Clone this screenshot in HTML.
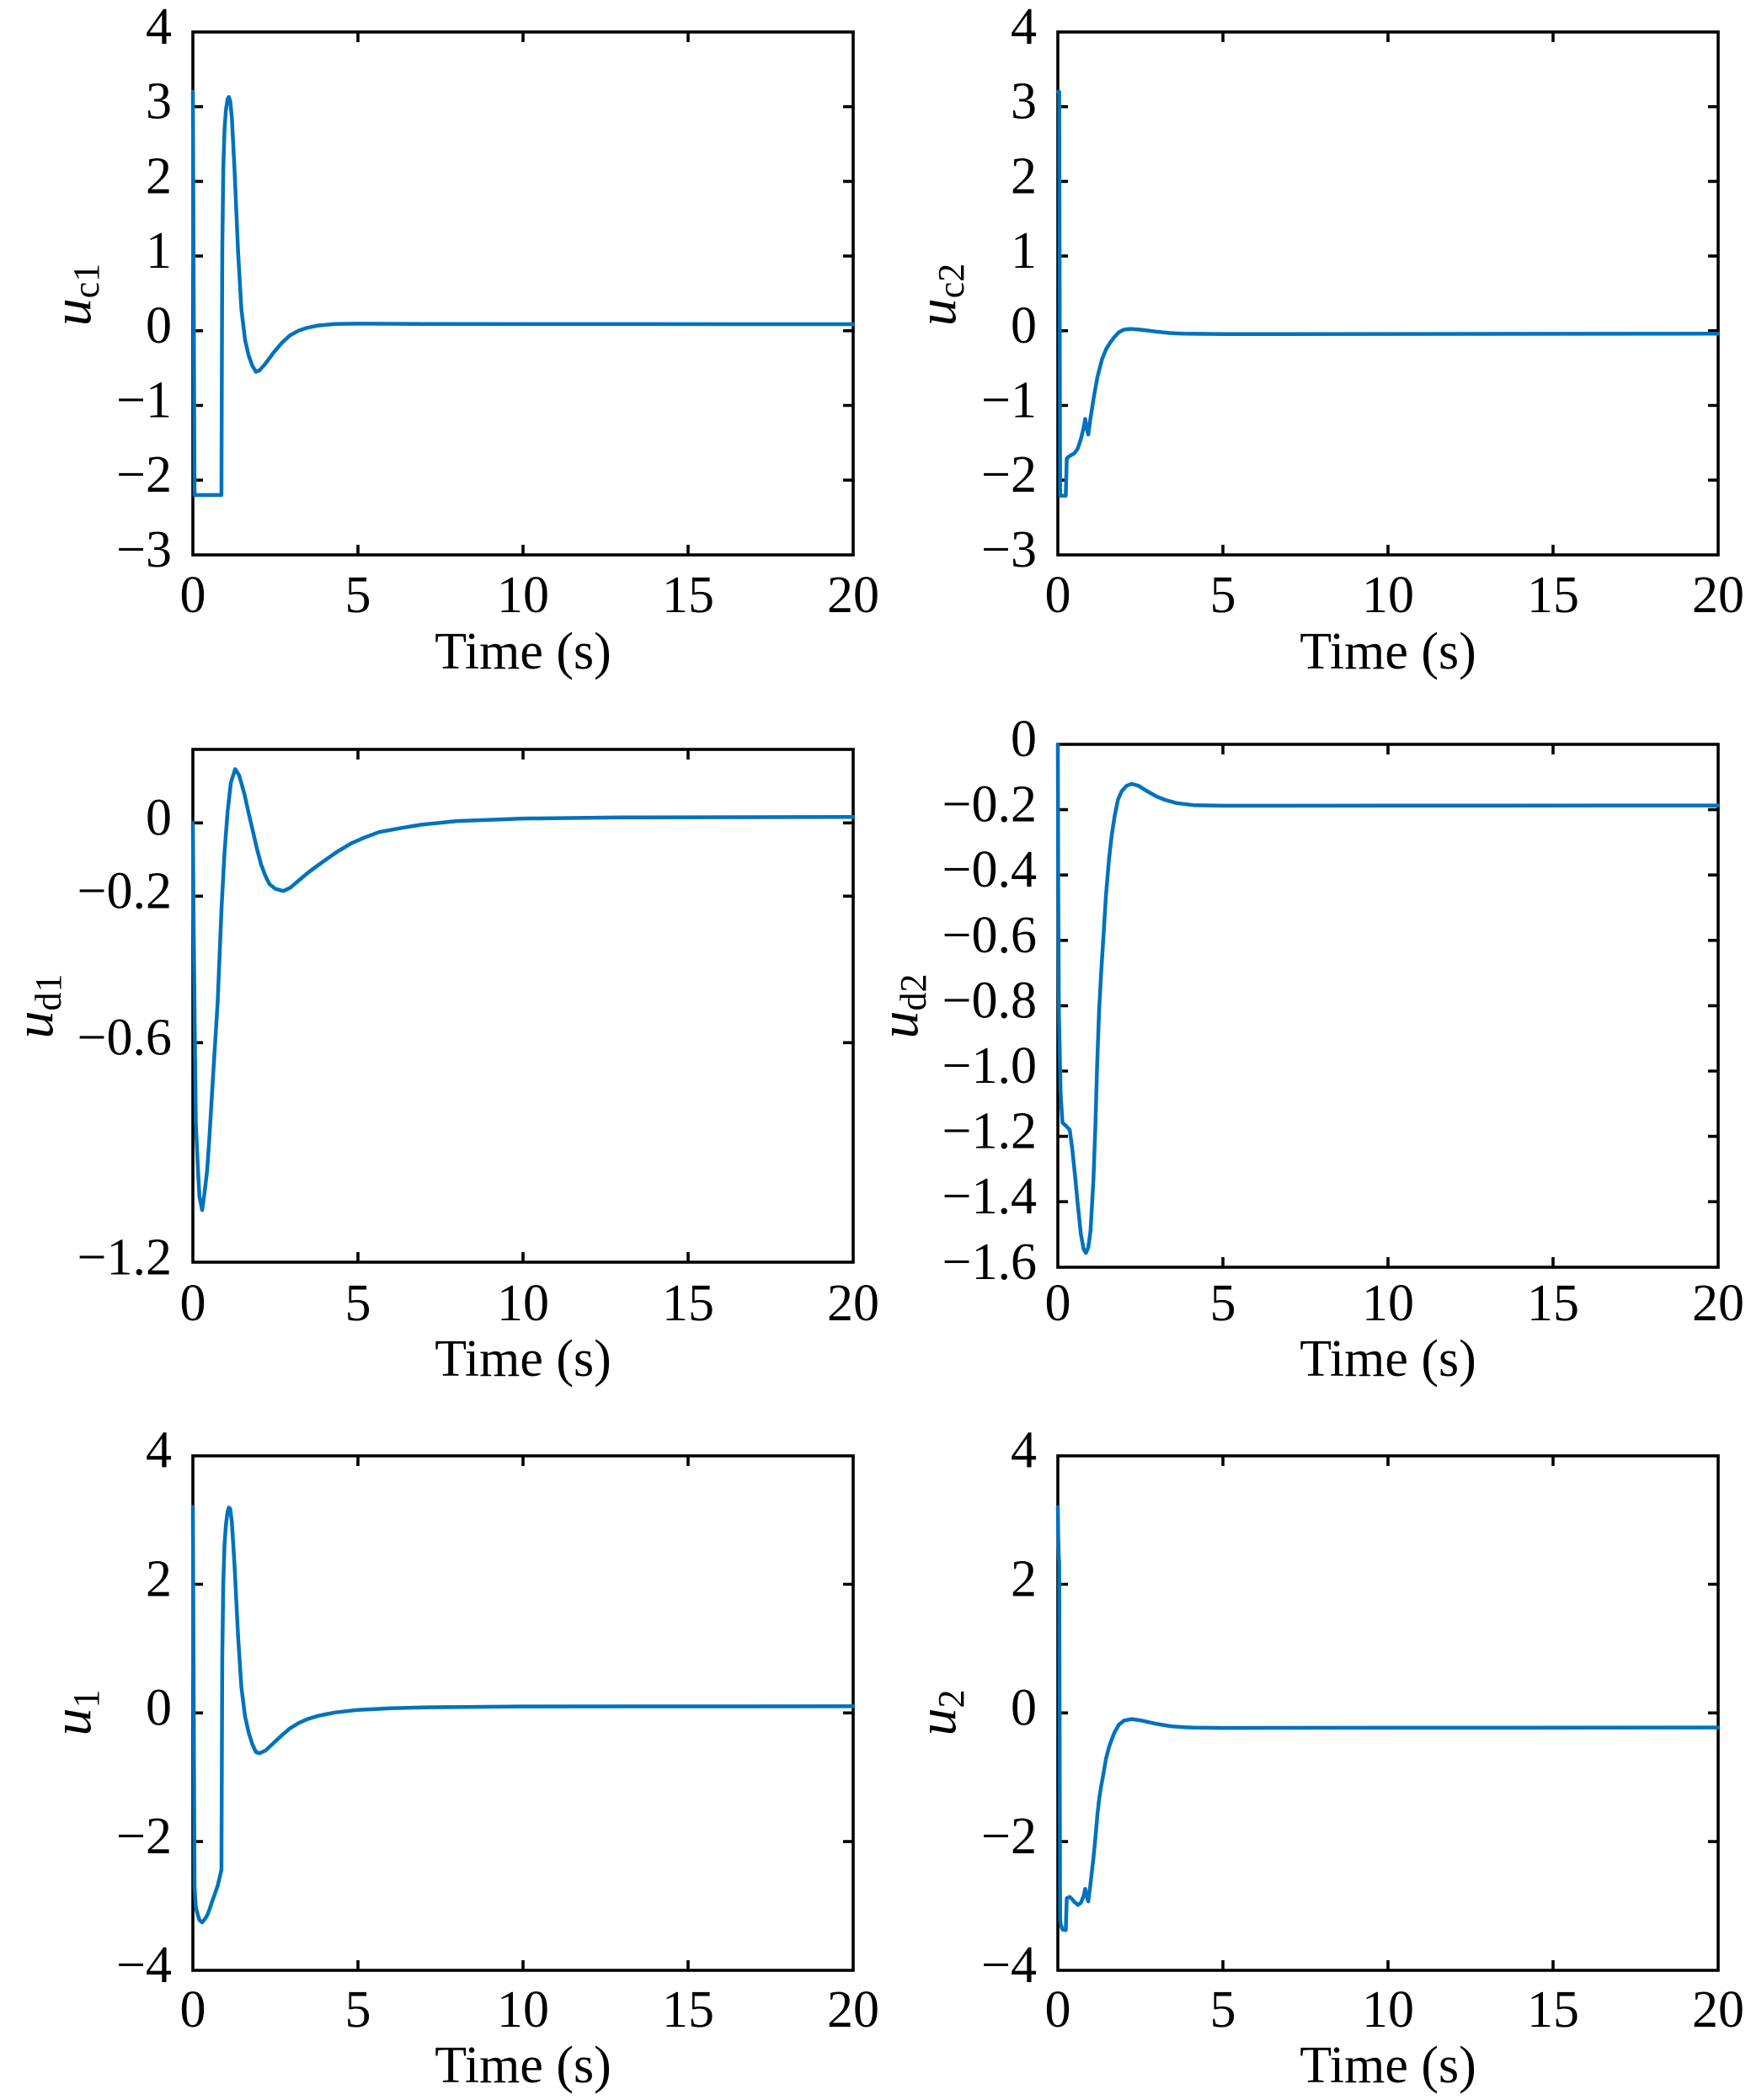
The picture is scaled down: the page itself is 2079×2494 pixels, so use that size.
<!DOCTYPE html>
<html>
<head>
<meta charset="utf-8">
<style>
html,body{margin:0;padding:0;background:#fff;}
svg{display:block;}
text{font-family:"Liberation Serif","Times New Roman",serif;fill:#000;}
</style>
</head>
<body>
<svg width="2079" height="2494" viewBox="0 0 2079 2494" xmlns="http://www.w3.org/2000/svg">
<rect x="0" y="0" width="2079" height="2494" fill="#fff"/>

<!-- ================= Frames ================= -->
<g fill="none" stroke="#000" stroke-width="3.6">
  <rect x="229" y="38" width="784" height="621"/>
  <rect x="1256" y="38" width="784" height="621"/>
  <rect x="229" y="890" width="784" height="609"/>
  <rect x="1256" y="884" width="784" height="621"/>
  <rect x="229" y="1729" width="784" height="611"/>
  <rect x="1256" y="1729" width="784" height="611"/>
</g>

<!-- ================= Ticks ================= -->
<g fill="none" stroke="#000" stroke-width="3.6">
  <path d="M425 659V647M621 659V647M817 659V647M425 38V50M621 38V50M817 38V50
           M229 126.7H241M229 215.4H241M229 304.1H241M229 392.8H241M229 481.5H241M229 570.2H241
           M1013 126.7H1001M1013 215.4H1001M1013 304.1H1001M1013 392.8H1001M1013 481.5H1001M1013 570.2H1001"/>
  <path d="M1452 659V647M1648 659V647M1844 659V647M1452 38V50M1648 38V50M1844 38V50
           M1256 126.7H1268M1256 215.4H1268M1256 304.1H1268M1256 392.8H1268M1256 481.5H1268M1256 570.2H1268
           M2040 126.7H2028M2040 215.4H2028M2040 304.1H2028M2040 392.8H2028M2040 481.5H2028M2040 570.2H2028"/>
  <path d="M425 1499V1487M621 1499V1487M817 1499V1487M425 890V902M621 890V902M817 890V902
           M229 977.3H241M229 1064.3H241M229 1238.3H241
           M1013 977.3H1001M1013 1064.3H1001M1013 1238.3H1001"/>
  <path d="M1452 1505V1493M1648 1505V1493M1844 1505V1493M1452 884V896M1648 884V896M1844 884V896
           M1256 961.6H1268M1256 1039.2H1268M1256 1116.8H1268M1256 1194.4H1268M1256 1272H1268M1256 1349.6H1268M1256 1427.2H1268
           M2040 961.6H2028M2040 1039.2H2028M2040 1116.8H2028M2040 1194.4H2028M2040 1272H2028M2040 1349.6H2028M2040 1427.2H2028"/>
  <path d="M425 2340V2328M621 2340V2328M817 2340V2328M425 1729V1741M621 1729V1741M817 1729V1741
           M229 1881.5H241M229 2034.3H241M229 2187.1H241
           M1013 1881.5H1001M1013 2034.3H1001M1013 2187.1H1001"/>
  <path d="M1452 2340V2328M1648 2340V2328M1844 2340V2328M1452 1729V1741M1648 1729V1741M1844 1729V1741
           M1256 1881.5H1268M1256 2034.3H1268M1256 2187.1H1268
           M2040 1881.5H2028M2040 2034.3H2028M2040 2187.1H2028"/>
</g>

<!-- ================= Curves ================= -->
<g fill="none" stroke="#0072BD" stroke-width="4.5" stroke-linejoin="round" stroke-linecap="round">
  <polyline points="229,109 231,587.9 262.9,587.9 263.9,299.7 265.1,200.3 266.6,153.3 268.2,131.1 270.2,117.8 271.7,115.2 273.3,119.6 275.3,140 278.4,200.3 282.7,299.7 286.6,367.1 290.9,403.4 295.2,422.1 299.6,434.5 303.9,441.6 308.2,439.8 315.2,431.8 325,418.5 334.8,407 344.6,398.1 354.4,392.8 364.6,389.3 378,386.6 397.6,384.8 425,384.4 503.4,384.8 1013,385"/>
  <polyline points="1256,109 1257.6,109 1258.7,588.8 1265.4,588.8 1266.6,544.5 1269.7,541.8 1275.6,538.3 1279.5,533 1283.4,521.4 1286.6,508.1 1288.5,497.5 1290.1,508.1 1292.1,516.1 1294.4,499.2 1298.7,471.7 1303,447.8 1308.5,426.5 1313.6,414.1 1318.7,406.1 1323.4,399.9 1328.5,394.6 1334.4,391.5 1341.8,390.6 1354,391.5 1371.6,393.7 1389.3,395.5 1405,396.3 1452,396.8 2040,396.3"/>
  <polyline points="229,977.3 229.8,1086.1 231,1199.2 232.5,1334 234.9,1386.2 236.8,1421 240,1437.1 242.3,1421 245.9,1390.6 248.6,1351.4 251.7,1299.2 254.9,1247 258.4,1190.5 263.1,1077.4 266.6,1012.1 270.2,964.3 274.1,929.5 279.2,913.4 283.9,920.7 290.2,942.9 294.9,964.3 300,986 305,1007.8 310.1,1026.9 315.2,1040.4 319.9,1050 327,1055.6 336.4,1058.2 344.6,1054.3 353.3,1046.9 366.2,1036 383.4,1023.4 399.5,1012.1 416.8,1001.7 432.8,994.7 450.1,988.2 476,983.4 499.5,979.5 542.6,975.1 621,972.1 738.6,970.8 1013,970.3"/>
  <polyline points="1256,884 1256.4,1039.2 1257.2,1198.3 1259.3,1299.2 1261.5,1333.3 1265,1336.4 1270.1,1341.8 1273.2,1365.1 1276.8,1400 1279.9,1433 1283.4,1466 1286.6,1483.5 1289.3,1488.1 1292.1,1481.5 1294.8,1462.1 1298.3,1400 1300.7,1333.3 1302.6,1266.6 1305,1199.8 1307.4,1155.6 1310.1,1112.9 1313.2,1062.5 1316.8,1019.8 1319.9,992.6 1323.4,969.4 1327.3,950 1331.7,939.9 1337.5,933.3 1343.8,930.9 1352,933.3 1361.8,939.5 1373.6,946.1 1383.4,950 1397.1,953.8 1416.7,956.2 1452,956.9 2040,956.6"/>
  <polyline points="229,1789.8 229.8,1973.9 231,2241.3 232.5,2265 234.9,2274.2 236.8,2280.3 240,2283.1 242.3,2280.3 245.9,2275 248.6,2268.1 251.7,2258.9 254.9,2249.7 258.4,2239.8 262.9,2220.7 263.9,1969.1 265.1,1879.7 266.6,1834.1 268.2,1811.3 270.2,1795.2 271.7,1790.4 273.3,1791.8 275.3,1807.5 278.4,1857.7 282.7,1943.8 286.6,2003.9 290.9,2038 295.2,2057.5 299.6,2071.4 303.9,2080.8 308.2,2082.2 315.2,2079 325,2069.9 334.8,2060.7 344.6,2052.4 354.4,2046.4 364.6,2041.8 378,2037.7 397.6,2033.8 425,2030.7 464.2,2028.7 503.4,2027.7 621,2026.6 1013,2026.4"/>
  <polyline points="1256,1789.8 1256.4,1820.4 1257.2,1851.7 1257.6,1855.3 1258.7,2279.5 1259.3,2284.9 1261.5,2291.6 1265,2292.2 1265.4,2292.3 1266.6,2254.3 1270.1,2252.8 1273.2,2255.9 1275.6,2258.9 1276.8,2259.7 1279.9,2262.4 1283.4,2259.7 1286.6,2251.7 1288.5,2243.2 1290.1,2252.3 1292.1,2258.2 1294.4,2240.4 1298.3,2206.2 1300.7,2181.6 1303,2154.8 1305,2137 1307.4,2121.4 1310.1,2106.9 1313.2,2088.5 1316.8,2074.8 1319.9,2066 1323.4,2057.2 1328.5,2048.3 1334.4,2043.5 1343.8,2041.6 1354,2043.1 1373.6,2047.4 1389.3,2050 1405,2051.3 1416.7,2051.7 1452,2052.1 2040,2051.6"/>
</g>

<!-- ================= Tick labels ================= -->
<g font-size="62">
  <g text-anchor="end">
    <text x="204" y="52">4</text>
    <text x="204" y="140.7">3</text>
    <text x="204" y="229.4">2</text>
    <text x="204" y="318.1">1</text>
    <text x="204" y="406.8">0</text>
    <text x="204" y="495.5">−1</text>
    <text x="204" y="584.2">−2</text>
    <text x="204" y="672.9">−3</text>
    <text x="1231" y="52">4</text>
    <text x="1231" y="140.7">3</text>
    <text x="1231" y="229.4">2</text>
    <text x="1231" y="318.1">1</text>
    <text x="1231" y="406.8">0</text>
    <text x="1231" y="495.5">−1</text>
    <text x="1231" y="584.2">−2</text>
    <text x="1231" y="672.9">−3</text>
    <text x="204" y="991.3">0</text>
    <text x="204" y="1078.3">−0.2</text>
    <text x="204" y="1252.3">−0.6</text>
    <text x="204" y="1513.3">−1.2</text>
    <text x="1231" y="898">0</text>
    <text x="1231" y="975.6">−0.2</text>
    <text x="1231" y="1053.2">−0.4</text>
    <text x="1231" y="1130.8">−0.6</text>
    <text x="1231" y="1208.4">−0.8</text>
    <text x="1231" y="1286">−1.0</text>
    <text x="1231" y="1363.6">−1.2</text>
    <text x="1231" y="1441.2">−1.4</text>
    <text x="1231" y="1518.8">−1.6</text>
    <text x="204" y="1742.7">4</text>
    <text x="204" y="1895.5">2</text>
    <text x="204" y="2048.3">0</text>
    <text x="204" y="2201.1">−2</text>
    <text x="204" y="2353.9">−4</text>
    <text x="1231" y="1742.7">4</text>
    <text x="1231" y="1895.5">2</text>
    <text x="1231" y="2048.3">0</text>
    <text x="1231" y="2201.1">−2</text>
    <text x="1231" y="2353.9">−4</text>
  </g>

  <g text-anchor="middle">
    <text x="229" y="727">0</text><text x="425" y="727">5</text><text x="621" y="727">10</text><text x="817" y="727">15</text><text x="1013" y="727">20</text>
    <text x="1256" y="727">0</text><text x="1452" y="727">5</text><text x="1648" y="727">10</text><text x="1844" y="727">15</text><text x="2040" y="727">20</text>

    <text x="229" y="1568">0</text><text x="425" y="1568">5</text><text x="621" y="1568">10</text><text x="817" y="1568">15</text><text x="1013" y="1568">20</text>
    <text x="1256" y="1568">0</text><text x="1452" y="1568">5</text><text x="1648" y="1568">10</text><text x="1844" y="1568">15</text><text x="2040" y="1568">20</text>

    <text x="229" y="2407">0</text><text x="425" y="2407">5</text><text x="621" y="2407">10</text><text x="817" y="2407">15</text><text x="1013" y="2407">20</text>
    <text x="1256" y="2407">0</text><text x="1452" y="2407">5</text><text x="1648" y="2407">10</text><text x="1844" y="2407">15</text><text x="2040" y="2407">20</text>

    <text x="621" y="794">Time (s)</text>
    <text x="1648" y="794">Time (s)</text>
    <text x="621" y="1634">Time (s)</text>
    <text x="1648" y="1634">Time (s)</text>
    <text x="621" y="2473">Time (s)</text>
    <text x="1648" y="2473">Time (s)</text>
  </g>
</g>

<!-- ================= Y axis titles ================= -->
<g font-size="66" text-anchor="middle">
  <text transform="translate(107,350) rotate(-90)"><tspan font-style="italic">u</tspan><tspan font-size="44" dy="10">c1</tspan></text>
  <text transform="translate(1134,350) rotate(-90)"><tspan font-style="italic">u</tspan><tspan font-size="44" dy="10">c2</tspan></text>
  <text transform="translate(62,1195) rotate(-90)"><tspan font-style="italic">u</tspan><tspan font-size="44" dy="10">d1</tspan></text>
  <text transform="translate(1089,1195) rotate(-90)"><tspan font-style="italic">u</tspan><tspan font-size="44" dy="10">d2</tspan></text>
  <text transform="translate(107,2034) rotate(-90)"><tspan font-style="italic">u</tspan><tspan font-size="44" dy="10">1</tspan></text>
  <text transform="translate(1134,2034) rotate(-90)"><tspan font-style="italic">u</tspan><tspan font-size="44" dy="10">2</tspan></text>
</g>
</svg>
</body>
</html>
